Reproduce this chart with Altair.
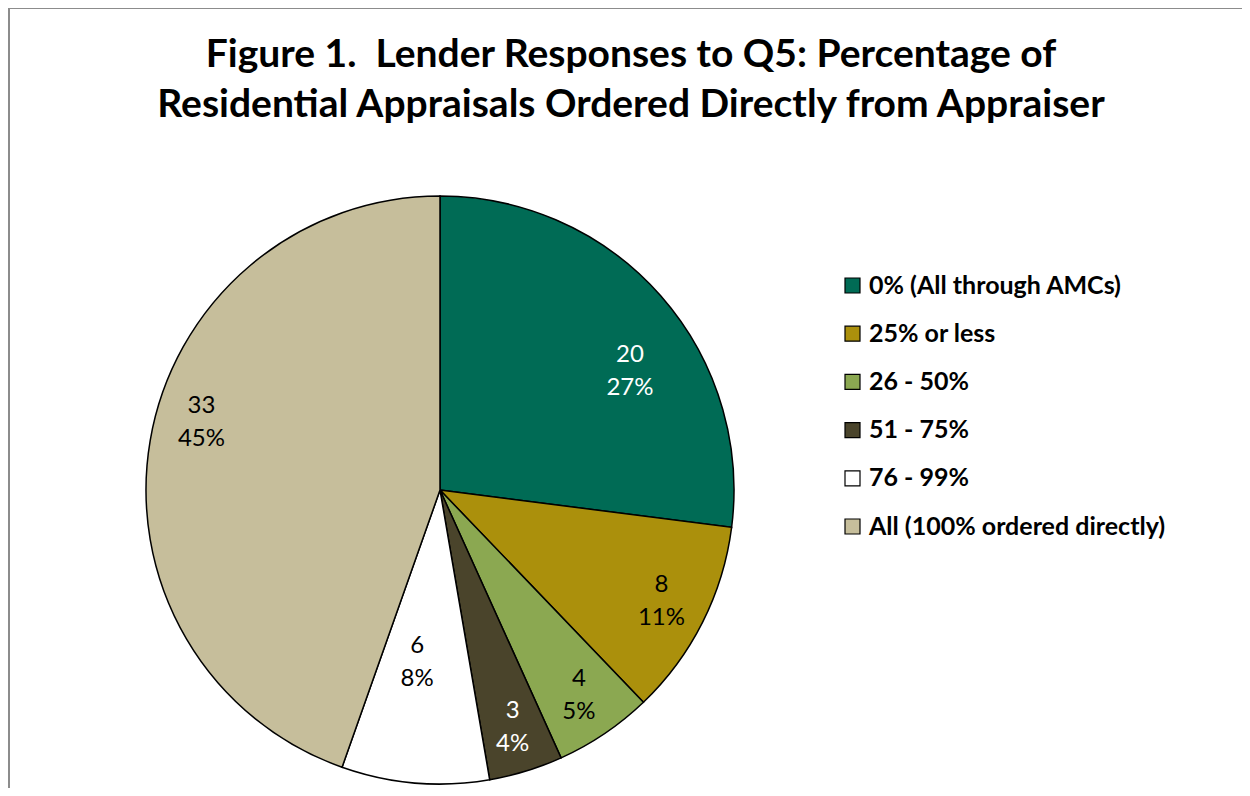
import altair as alt
import pandas as pd

# ---- data ----
categories = [
    "0% (All through AMCs)",
    "25% or less",
    "26 - 50%",
    "51 - 75%",
    "76 - 99%",
    "All (100% ordered directly)",
]
counts = [20, 8, 4, 3, 6, 33]
colors = ["#006B55", "#AB900C", "#8BA851", "#4A442B", "#FFFFFF", "#C6BE9B"]
title_lines = [
    "Figure 1.\u00a0 Lender Responses to Q5: Percentage of",
    "Residential Appraisals Ordered Directly from Appraiser",
]

df = pd.DataFrame({"category": categories, "count": counts, "order": list(range(len(categories)))})
frame_df = pd.DataFrame({"frame": [0]})

W, H = 1234, 780
CX, CY, R = 432, 482, 294
FONT = "Lato"

base = alt.Chart(df)

pie = base.mark_arc(outerRadius=R, stroke="black", strokeWidth=1.5).encode(
    theta=alt.Theta("count:Q", stack=True),
    order=alt.Order("order:Q"),
    color=alt.Color(
        "category:N",
        scale=alt.Scale(domain=categories, range=colors),
        legend=alt.Legend(
            orient="none",
            legendX=832,
            legendY=265,
            title=None,
            symbolType="square",
            symbolSize=225,
            symbolStrokeColor="black",
            symbolStrokeWidth=1.2,
            symbolOpacity=1,
            labelFont=FONT,
            labelFontSize=25,
            labelFontWeight="bold",
            labelColor="black",
            labelOffset=4,
            rowPadding=22.2,
            labelLimit=400,
        ),
    ),
    x=alt.value(CX),
    y=alt.value(CY),
)

white_text = "datum.category == '0% (All through AMCs)' || datum.category == '51 - 75%'"

labels = (
    base.transform_joinaggregate(total="sum(count)")
    .transform_window(cum="sum(count)", sort=[alt.SortField("order")], frame=[None, 0])
    .transform_calculate(
        frac="(datum.cum - datum.count / 2) / datum.total"
        " + (datum.category == '0% (All through AMCs)' ? 0.026"
        " : datum.category == 'All (100% ordered directly)' ? 0.017"
        " : datum.category == '76 - 99%' ? 0.0075 : 0)",
        r="datum.category == '76 - 99%' ? 174 : datum.category == '0% (All through AMCs)' ? 224 : 248",
        label="datum.count + '\\n' + format(datum.count / datum.total, '.0%')",
    )
    .mark_text(font=FONT, fontSize=24, lineBreak="\n", lineHeight=33, align="center", baseline="middle", dy=-16.5)
    .encode(
        theta=alt.Theta("frac:Q", stack=False, scale=alt.Scale(domain=[0, 1], range=[0, 6.283185307179586])),
        radius=alt.Radius("r:Q", scale=None),
        text="label:N",
        color=alt.condition(white_text, alt.value("white"), alt.value("black")),
        x=alt.value(CX),
        y=alt.value(CY),
    )
)

frame = alt.Chart(frame_df).mark_rect(filled=False, stroke="#8C8C8C", strokeWidth=2).encode(
    x=alt.value(1), y=alt.value(0), x2=alt.value(2000), y2=alt.value(2000)
)

chart = (
    alt.layer(frame, pie, labels)
    .resolve_scale(theta="independent")
    .properties(
        width=W,
        height=H,
        autosize=alt.AutoSizeParams(type="none"),
        padding={"left": 0, "top": 0, "right": 0, "bottom": 0},
        title=alt.TitleParams(
            text=title_lines,
            font=FONT,
            fontSize=39,
            fontWeight="bold",
            color="black",
            anchor="middle",
            frame="group",
            lineHeight=50,
            offset=-118,
            dx=6,
        ),
    )
    .configure_view(stroke=None)
)

chart.save("out.html", embed_options={"renderer": "svg", "actions": False})
